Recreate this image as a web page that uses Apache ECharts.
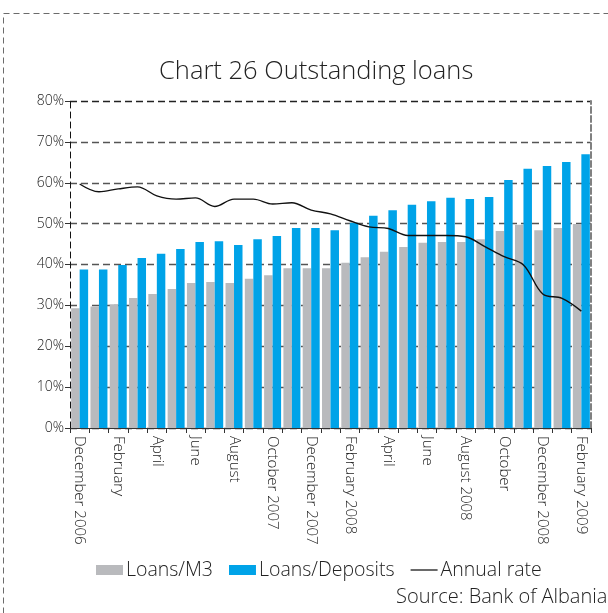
<!DOCTYPE html>
<html>
<head>
<meta charset="utf-8">
<script src="https://cdn.jsdelivr.net/npm/echarts@6/dist/echarts.min.js"></script>
<style>
  html, body { margin: 0; padding: 0; background: #fff; }
  #chart { width: 608px; height: 613px; }
</style>
</head>
<body>
<div id="chart"></div>
<script>
// Months from December 2006 to February 2009
const months = [
  'December 2006', 'January', 'February', 'March', 'April', 'May', 'June',
  'July', 'August', 'September', 'October 2007', 'November', 'December 2007',
  'January', 'February 2008', 'March', 'April', 'May', 'June', 'July',
  'August 2008', 'September', 'October', 'November', 'December 2008',
  'January', 'February 2009'
];

// Loans to M3 ratio (%)
const loansM3 = [
  29.3, 29.7, 30.3, 31.8, 32.8, 34.0, 35.5, 35.7, 35.5, 36.5, 37.4, 39.1, 39.1,
  39.1, 40.4, 41.8, 43.1, 44.3, 45.3, 45.5, 45.5, 46.2, 48.2, 49.7, 48.4, 48.9, 49.9
];

// Loans to deposits ratio (%)
const loansDeposits = [
  38.8, 38.8, 39.9, 41.6, 42.6, 43.8, 45.5, 45.7, 44.8, 46.2, 47.0, 48.9, 48.9,
  48.4, 50.2, 51.9, 53.3, 54.6, 55.5, 56.3, 56.0, 56.5, 60.7, 63.4, 64.1, 65.1, 67.0
];

// Annual growth rate of loans (%)
const annualRate = [
  59.7, 57.8, 58.5, 59.0, 56.8, 56.0, 56.3, 54.2, 56.0, 56.0, 54.8, 55.1, 53.3,
  52.4, 50.7, 49.2, 48.8, 47.1, 47.1, 47.1, 46.8, 44.4, 41.9, 39.9, 32.8, 31.7, 28.6
];

const yTicks = [0, 10, 20, 30, 40, 50, 60, 70, 80];

const FONT = '"Open Sans", "Noto Sans", sans-serif';

const chart = echarts.init(document.getElementById('chart'), null, { renderer: 'canvas' });

chart.setOption({
  animation: false,
  backgroundColor: '#ffffff',
  textStyle: { fontFamily: FONT },
  title: {
    text: 'Chart 26 Outstanding loans',
    left: 154,
    top: 54,
    textStyle: { fontFamily: FONT, fontSize: 25.5, fontWeight: 300, color: '#222' }
  },
  legend: {
    left: 91,
    top: 555,
    itemWidth: 27,
    itemHeight: 10,
    itemGap: 16,
    symbolKeepAspect: true,
    textStyle: { fontFamily: FONT, fontSize: 19.5, fontWeight: 300, color: '#222', padding: [0, 0, 0, -2] },
    data: [
      { name: 'Loans/M3', icon: 'rect' },
      { name: 'Loans/Deposits', icon: 'rect' },
      { name: 'Annual rate', icon: 'path://M0,0 L28,0 L28,1.3 L0,1.3 Z' }
    ]
  },
  graphic: [
    {
      type: 'rect',
      silent: true,
      shape: { x: 3.5, y: 13.5, width: 700, height: 700 },
      style: { fill: 'none', stroke: '#6b6b6b', lineWidth: 1, lineDash: [6, 4] }
    },
    {
      type: 'text',
      left: 396,
      top: 587,
      style: { text: 'Source: Bank of Albania', fill: '#222', font: '300 20px ' + FONT }
    }
  ],
  grid: { left: 70, right: 17, top: 101, bottom: 185, containLabel: false },
  xAxis: {
    type: 'category',
    data: months,
    axisLine: { show: true, lineStyle: { color: '#333', width: 1 } },
    axisTick: { show: true, alignWithLabel: false, interval: 0, length: 5, lineStyle: { color: '#333' } },
    axisLabel: {
      interval: 1,
      rotate: -90,
      margin: 8,
      fontFamily: FONT,
      fontSize: 15,
      fontWeight: 300,
      color: '#222'
    }
  },
  yAxis: [
    {
      type: 'value',
      min: 0,
      max: 80,
      interval: 10,
      axisLine: { show: true, lineStyle: { color: '#111', type: [6, 4] } },
      axisTick: { show: true, length: 5, lineStyle: { color: '#333' } },
      axisLabel: {
        fontFamily: FONT,
        fontSize: 14,
        fontWeight: 300,
        color: '#222',
        margin: 6,
        formatter: function (v) { return yTicks.indexOf(v) >= 0 ? v + '%' : ''; }
      },
      splitLine: {
        show: true,
        lineStyle: {
          color: ['#444', '#555', '#555', '#555', '#555', '#555', '#555', '#555', '#222'],
          width: 1.3,
          type: [7, 4]
        }
      }
    },
    {
      type: 'value',
      position: 'right',
      min: 0,
      max: 80,
      interval: 10,
      axisLine: { show: true, lineStyle: { color: '#808080', width: 2, type: [6, 3] } },
      axisTick: { show: false },
      axisLabel: { show: false },
      splitLine: { show: false }
    }
  ],
  series: [
    {
      name: 'Loans/M3',
      type: 'bar',
      data: loansM3,
      itemStyle: { color: '#b9babd' },
      barGap: '0%',
      barCategoryGap: '12%'
    },
    {
      name: 'Loans/Deposits',
      type: 'bar',
      data: loansDeposits,
      itemStyle: { color: '#00a3e8' },
      barGap: '0%',
      barCategoryGap: '12%'
    },
    {
      name: 'Annual rate',
      type: 'line',
      data: annualRate,
      symbol: 'none',
      smooth: 0.35,
      lineStyle: { color: '#111', width: 1.4 },
      itemStyle: { color: '#111' }
    }
  ]
});
</script>
</body>
</html>
